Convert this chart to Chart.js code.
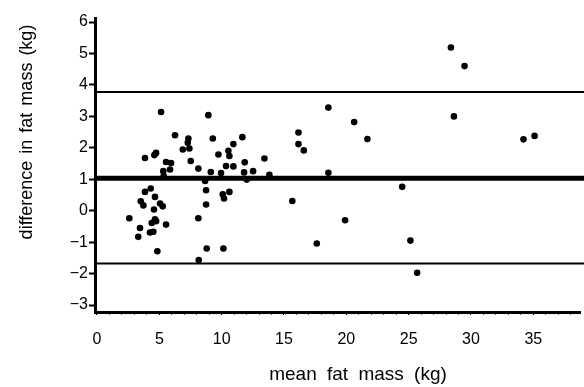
<!DOCTYPE html>
<html>
<head>
<meta charset="utf-8">
<script src="https://cdn.jsdelivr.net/npm/chart.js@4.4.1/dist/chart.umd.min.js"></script>
<style>
html,body{margin:0;padding:0;background:#fff;}
#wrap{width:584px;height:387px;position:relative;}
</style>
</head>
<body>
<div id="wrap"><canvas id="c" width="584" height="387"></canvas></div>
<script>
// Data
const meanFatMass = [5.14,8.93,6.26,7.33,7.28,9.29,6.88,7.41,4.74,4.60,3.85,9.74,7.52,5.54,5.94,8.13,5.86,5.32,9.13,8.67,
  4.31,3.85,8.75,4.65,3.51,5.06,3.72,5.27,8.75,4.57,2.59,4.65,8.13,3.45,4.39,4.74,5.54,3.31,4.25,4.52,4.84,8.80,8.16,
  18.56,20.63,11.66,10.94,10.54,10.62,16.16,16.16,16.59,21.69,13.43,11.85,10.35,10.94,9.95,11.80,12.52,13.83,18.56,12.01,
  10.09,10.62,10.19,15.67,19.90,17.63,10.14,28.39,29.48,28.63,34.21,35.10,24.48,25.14,25.68,5.35];
const diffFatMass = [3.14,3.04,2.40,2.30,2.16,2.30,1.95,1.98,1.84,1.77,1.68,1.79,1.58,1.55,1.52,1.34,1.31,1.26,1.23,0.95,
  0.71,0.60,0.65,0.44,0.30,0.23,0.17,0.14,0.20,0.04,-0.24,-0.27,-0.24,-0.55,-0.39,-0.33,-0.44,-0.83,-0.69,-0.67,-1.29,-1.20,-1.57,
  3.28,2.82,2.34,2.12,1.91,1.74,2.49,2.12,1.92,2.28,1.66,1.54,1.42,1.41,1.20,1.22,1.26,1.14,1.21,0.99,
  0.52,0.60,0.39,0.31,-0.30,-1.04,-1.20,5.19,4.60,3.00,2.27,2.38,0.76,-0.95,-1.97,1.10];
const limitValues = [3.78, 1.03, -1.68];   // upper limit, mean difference, lower limit
const xTickValues = [0,1,2,3,4,5,6,7,8,9,10,11,12,13,14,15,16,17,18,19,20,21,22,23,24,25,26,27,28,29,30,31,32,33,34,35,36,37,38];
const yTickValues = [-3,-2,-1,0,1,2,3,4,5,6];
const xTitle = 'mean fat mass (kg)';
const yTitle = 'difference in fat mass (kg)';

const X_MIN = -0.16, X_MAX = 38.8, Y_MIN = -3.22, Y_MAX = 6.13;
const FONT = "'Liberation Sans', Arial, Helvetica, sans-serif";

const points = meanFatMass.map((x, i) => ({x: x, y: diffFatMass[i]}));
const lineWidths = [2, 5, 2];
const lineSets = limitValues.map((v, i) => ({
  type: 'line',
  data: [{x: X_MIN, y: v}, {x: X_MAX + 0.4, y: v}],
  borderColor: '#000',
  borderWidth: lineWidths[i],
  pointRadius: 0,
  fill: false,
  clip: false
}));

const titlePlugin = {
  id: 'axisTitles',
  afterDraw(chart) {
    const ctx = chart.ctx;
    ctx.save();
    ctx.fillStyle = '#000';
    ctx.textAlign = 'center';
    ctx.textBaseline = 'middle';
    ctx.font = '19px ' + FONT;
    try { ctx.wordSpacing = '5px'; } catch (e) {}
    ctx.fillText(xTitle, 358, 375);
    ctx.font = '18px ' + FONT;
    try { ctx.wordSpacing = '2px'; } catch (e) {}
    ctx.translate(27, 132);
    ctx.rotate(-Math.PI / 2);
    ctx.fillText(yTitle, 0, 0);
    ctx.restore();
  }
};

new Chart(document.getElementById('c'), {
  type: 'scatter',
  data: {
    datasets: [{
      data: points,
      backgroundColor: '#000',
      borderColor: '#000',
      borderWidth: 0,
      pointRadius: 3.3,
      pointHoverRadius: 3.3
    }, ...lineSets]
  },
  options: {
    responsive: false,
    animation: false,
    events: [],
    layout: {padding: {top: 18, right: 0, left: 0, bottom: 0}},
    plugins: {legend: {display: false}, tooltip: {enabled: false}, title: {display: false}},
    scales: {
      x: {
        type: 'linear',
        min: X_MIN, max: X_MAX,
        afterBuildTicks: s => { s.ticks = xTickValues.map(v => ({value: v})); },
        afterFit: s => { s.height = 75; s.paddingRight = 0; s.paddingLeft = 0; },
        grid: {display: true, drawOnChartArea: false, drawTicks: true, tickLength: 3,
               tickColor: ctx => (ctx.tick && ctx.tick.value % 5 === 0) ? '#000' : '#666', tickWidth: 1},
        border: {display: true, color: '#000', width: 3},
        ticks: {
          autoSkip: false, maxRotation: 0, padding: 15, color: '#000',
          font: {family: FONT, size: 16},
          callback: v => (v % 5 === 0 ? String(v) : '')
        }
      },
      y: {
        type: 'linear',
        min: Y_MIN, max: Y_MAX,
        afterBuildTicks: s => { s.ticks = yTickValues.map(v => ({value: v})); },
        afterFit: s => { s.width = 95; s.paddingTop = 0; s.paddingBottom = 0; },
        grid: {display: true, drawOnChartArea: false, drawTicks: true, tickLength: 6, tickColor: '#000', tickWidth: 2},
        border: {display: true, color: '#000', width: 3},
        ticks: {
          autoSkip: false, padding: 1, color: '#000',
          font: {family: FONT, size: 16},
          callback: v => (v < 0 ? '\u2212' + Math.abs(v) : String(v))
        }
      }
    }
  },
  plugins: [titlePlugin]
});
</script>
</body>
</html>
